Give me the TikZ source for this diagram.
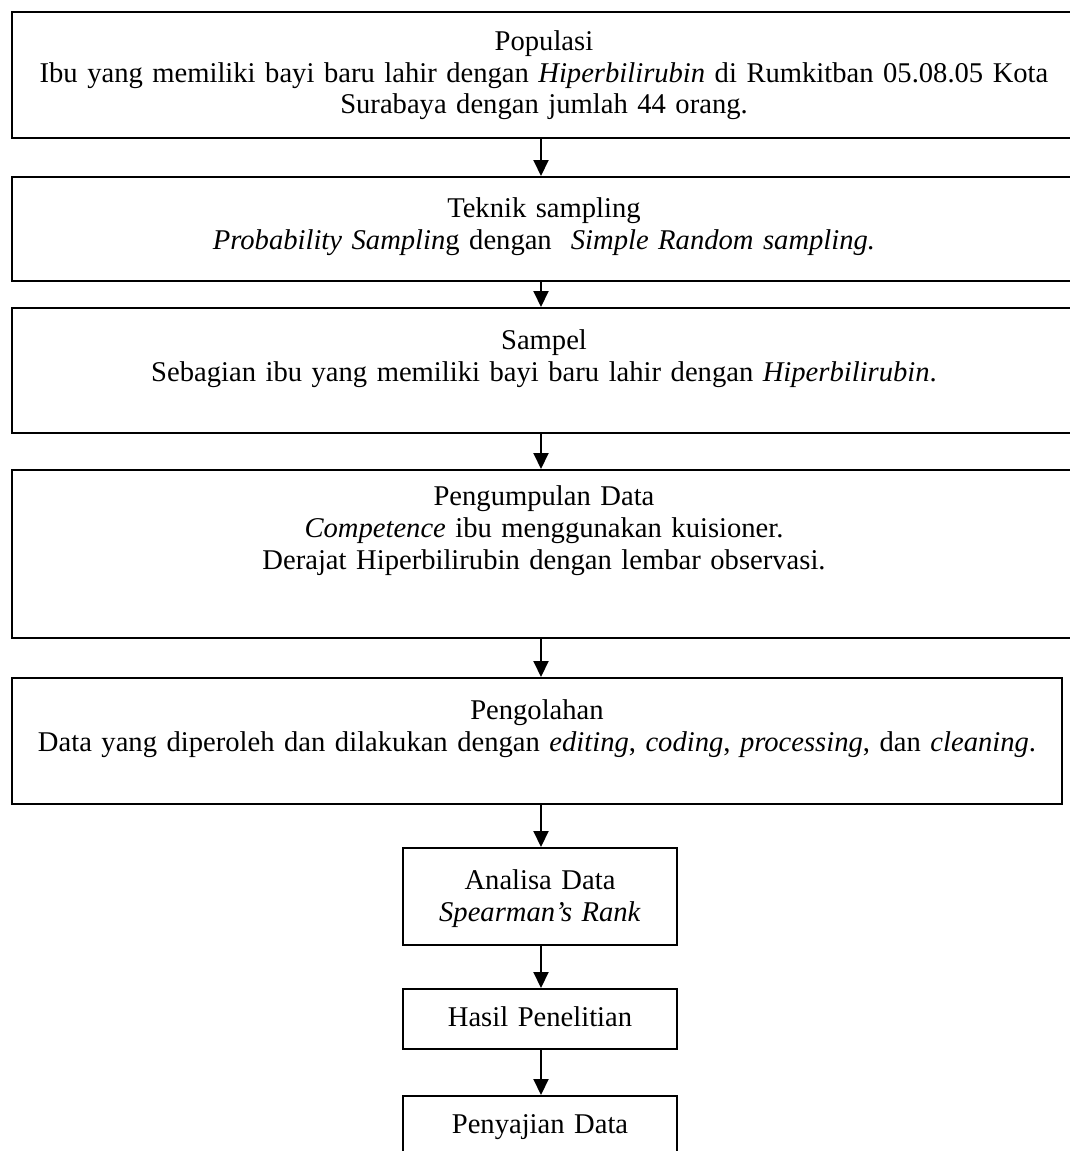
\documentclass[tikz,border=0pt]{standalone}
\usepackage{fontspec}
\setmainfont{Liberation Serif}
\usetikzlibrary{arrows.meta}

\tikzset{
	kotak/.style={draw, line width=1pt, anchor=north, inner sep=0pt, align=center},
	panah/.style={line width=1pt, -{Triangle[length=8pt,width=7.5pt]}},
}

\begin{document}
\begin{tikzpicture}[x=0.5pt,y=-0.5pt,font=\fontsize{14.3}{16}\selectfont]
		\clip (0,0) rectangle (1070,1151);
		\coordinate (tengah) at (541,0);
		% kotak alur
		\node[kotak, text width=532pt, text height=19pt, text depth=44pt] (populasi) at (544,11)
			{Populasi\\Ibu yang memiliki bayi baru lahir dengan \textit{Hiperbilirubin} di Rumkitban 05.08.05 Kota\\Surabaya dengan jumlah 44 orang.};
		\node[kotak, text width=532pt, text height=20pt, text depth=32pt] (teknik) at (544,176)
			{Teknik sampling\\\textit{Probability Samplin}g dengan~ \textit{Simple Random sampling.}};
		\node[kotak, text width=532pt, text height=20.5pt, text depth=42pt] (sampel) at (544,307)
			{Sampel\\Sebagian ibu yang memiliki bayi baru lahir dengan \textit{Hiperbilirubin}.};
		\node[kotak, text width=532pt, text height=17.5pt, text depth=66.5pt] (kumpul) at (544,469)
			{Pengumpulan Data\\\textit{Competence} ibu menggunakan kuisioner.\\Derajat Hiperbilirubin dengan lembar observasi.};
		\node[kotak, text width=525pt, text height=20.5pt, text depth=42.5pt] (olah) at (537,677)
			{Pengolahan\\Data yang diperoleh dan dilakukan dengan \textit{editing}, \textit{coding}, \textit{processing}, dan \textit{cleaning}.};
		\node[kotak, text width=137pt, text height=20.5pt, text depth=28pt] (analisa) at (540,847)
			{Analisa Data\\\textit{Spearman’s Rank}};
		\node[kotak, text width=137pt, text height=18.5pt, text depth=11.5pt] (hasil) at (540,988)
			{Hasil Penelitian};
		\node[kotak, text width=137pt, text height=18.5pt, text depth=19pt] (saji) at (540,1095)
			{Penyajian Data};
		% panah
		\draw[panah] (populasi.south -| tengah) -- (teknik.north -| tengah);
		\draw[panah] (teknik.south -| tengah) -- (sampel.north -| tengah);
		\draw[panah] (sampel.south -| tengah) -- (kumpul.north -| tengah);
		\draw[panah] (kumpul.south -| tengah) -- (olah.north -| tengah);
		\draw[panah] (olah.south -| tengah) -- (analisa.north -| tengah);
		\draw[panah] (analisa.south -| tengah) -- (hasil.north -| tengah);
		\draw[panah] (hasil.south -| tengah) -- (saji.north -| tengah);
	\end{tikzpicture}
\end{document}
